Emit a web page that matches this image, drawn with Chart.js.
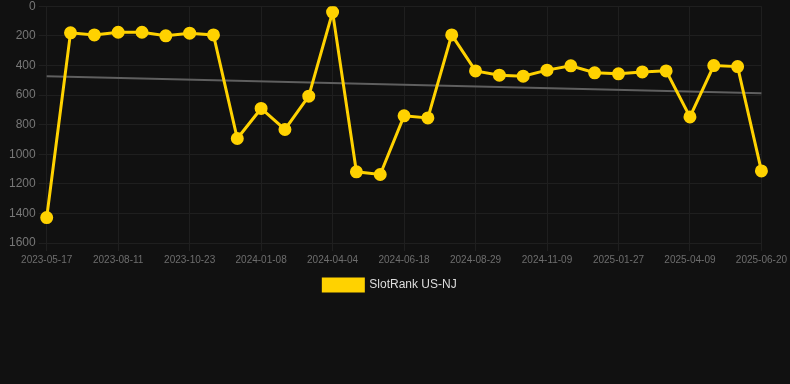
<!DOCTYPE html>
<html>
<head>
<meta charset="utf-8">
<script src="https://cdn.jsdelivr.net/npm/chart.js@4.4.1/dist/chart.umd.min.js"></script>
<style>
  html, body { margin: 0; padding: 0; background: #111111; overflow: hidden; }
  #wrap { position: relative; width: 790px; height: 305px; margin-top: -4px; }
</style>
</head>
<body>
<div id="wrap"><canvas id="rankChart"></canvas></div>
<script>
// dates of each sample (only every third one is shown on the axis)
var dates = [
  '2023-05-17', '2023-06-14', '2023-07-13', '2023-08-11', '2023-09-04', '2023-09-28',
  '2023-10-23', '2023-11-17', '2023-12-12', '2024-01-08', '2024-02-05', '2024-03-06',
  '2024-04-04', '2024-04-29', '2024-05-24', '2024-06-18', '2024-07-12', '2024-08-05',
  '2024-08-29', '2024-09-22', '2024-10-16', '2024-11-09', '2024-12-07', '2024-12-31',
  '2025-01-27', '2025-02-20', '2025-03-16', '2025-04-09', '2025-05-03', '2025-05-27',
  '2025-06-20'
];
// rank for each date
var ranks = [
  1428, 180, 194, 176, 176, 200, 182, 194, 894, 691, 833, 608,
  40, 1119, 1137, 741, 755, 194, 437, 466, 473, 432, 403, 450,
  457, 444, 437, 748, 401, 408, 1113
];
// trend line, start and end only
var trend = [473].concat(new Array(29).fill(null), [588]);

var yTicks = [0, 200, 400, 600, 800, 1000, 1200, 1400, 1600];

var ctx = document.getElementById('rankChart');
new Chart(ctx, {
  type: 'line',
  data: {
    labels: dates,
    datasets: [{
      label: 'SlotRank US-NJ',
      data: ranks,
      borderColor: '#ffd200',
      backgroundColor: '#ffd200',
      borderWidth: 3,
      pointRadius: 5,
      pointHoverRadius: 6,
      tension: 0
    }, {
      label: 'trend',
      data: trend,
      spanGaps: true,
      borderColor: '#5f5f5f',
      borderWidth: 2,
      pointRadius: 0,
      fill: false
    }]
  },
  options: {
    responsive: true,
    maintainAspectRatio: false,
    animation: false,
    layout: { padding: { left: 6, right: 16 } },
    plugins: {
      legend: {
        position: 'bottom',
        labels: {
          color: '#dddddd',
          font: { family: 'Liberation Sans, Arial', size: 12 },
          boxWidth: 40,
          boxHeight: 12,
          filter: function (item) { return item.text !== 'trend'; }
        }
      },
      tooltip: { enabled: false }
    },
    scales: {
      x: {
        grid: { color: '#1f1f1f' },
        border: { color: '#1f1f1f' },
        ticks: {
          color: '#6e6e6e',
          font: { family: 'Liberation Sans, Arial', size: 10 },
          maxRotation: 0,
          autoSkip: false,
          callback: function (val, i) { return i % 3 === 0 ? dates[i] : null; }
        }
      },
      y: {
        reverse: true,
        min: 0,
        max: 1600,
        grid: { color: '#1f1f1f' },
        border: { color: '#1f1f1f' },
        afterBuildTicks: function (axis) {
          axis.ticks = yTicks.map(function (v) { return { value: v }; });
        },
        ticks: {
          color: '#777777',
          font: { family: 'Liberation Sans, Arial', size: 12 },
          callback: function (val) { return String(val); }
        }
      }
    }
  }
});
</script>
</body>
</html>
